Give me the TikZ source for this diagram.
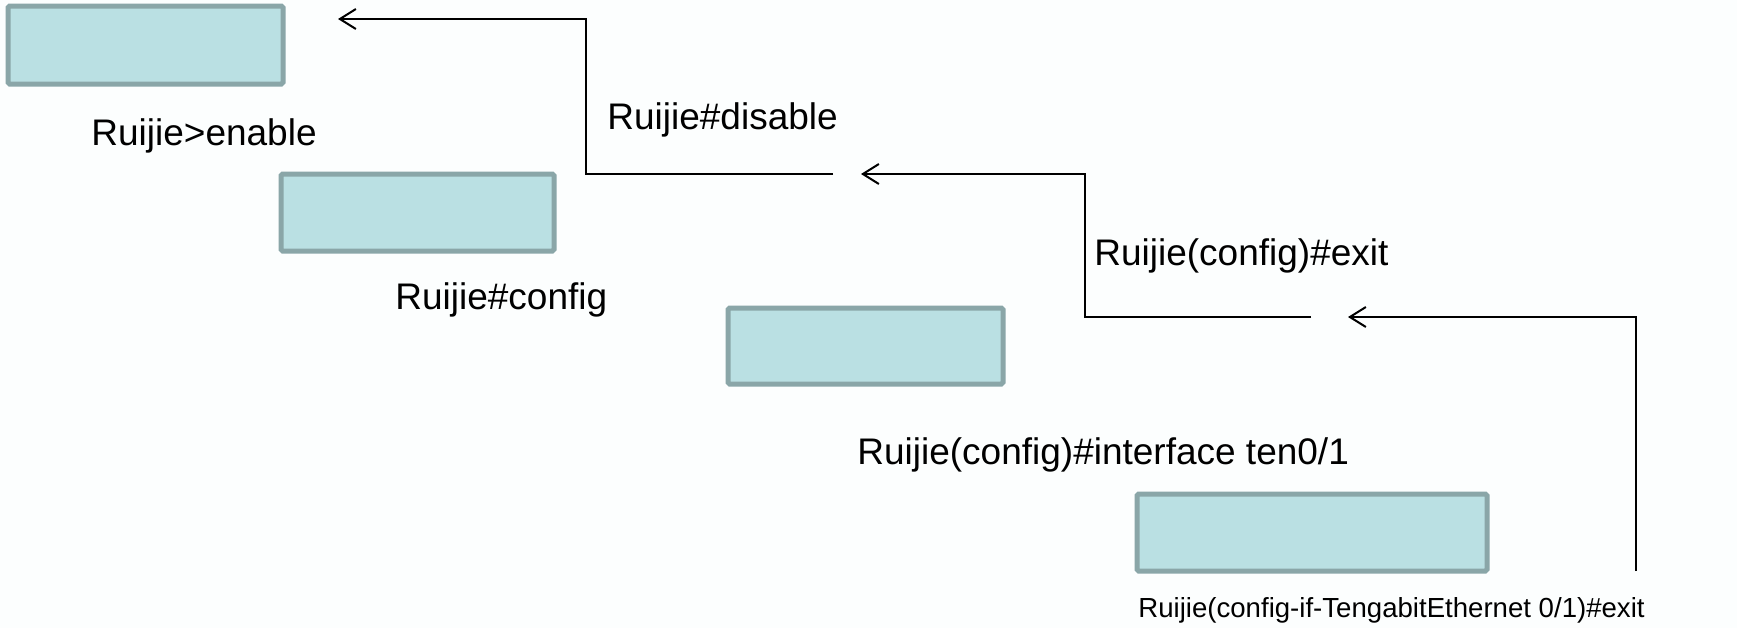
\documentclass[tikz,border=0pt]{standalone}
\usepackage{fontspec}
\setmainfont{Liberation Sans}
\usetikzlibrary{arrows.meta}
\definecolor{boxfill}{HTML}{BAE0E3}
\definecolor{boxline}{HTML}{8AA6A8}
\definecolor{bgcol}{HTML}{FCFEFE}
\tikzset{
  modebox/.style={draw=boxline, fill=boxfill, line width=2.5pt, rounded corners=0.8pt},
  cmdtext/.style={anchor=base west, inner sep=0pt, font=\fontsize{18.5pt}{22pt}\selectfont},
  smalltext/.style={anchor=base west, inner sep=0pt, font=\fontsize{13.8pt}{16pt}\selectfont},
  backarrow/.style={draw=black, line width=1pt, -{Straight Barb[length=8pt,width=10pt,line width=1pt]}}
}
\begin{document}
\begin{tikzpicture}[x=0.5pt,y=-0.5pt]
\useasboundingbox (0,0) rectangle (1737,628);
\fill[bgcol] (0,0) rectangle (1737,628);
% boxes
\draw[modebox] (8,6) rectangle (283,84);
\coordinate (b1) at (145,45);
\draw[modebox] (281,174) rectangle (554,251);
\draw[modebox] (728,308) rectangle (1003,384);
\draw[modebox] (1137,494) rectangle (1487,571);
% labels
\node[cmdtext] (t1) at (91,145) {Ruijie>enable};
\node[cmdtext] (t2) at (607,129) {Ruijie\#disable};
\node[cmdtext] (t3) at (395,309) {Ruijie\#config};
\node[cmdtext] (t4) at (1094,265) {Ruijie(config)\#exit};
\node[cmdtext] (t5) at (857,464) {Ruijie(config)\#interface ten0/1};
\node[smalltext] (t6) at (1138,617) {Ruijie(config-if-TengabitEthernet 0/1)\#exit};
% connector points
\coordinate (a1s) at (833,174);
\coordinate (a1c) at (586,174);
\coordinate (a1u) at (586,19);
\coordinate (a1t) at (338,19);
\coordinate (a2s) at (1311,317);
\coordinate (a2c) at (1085,317);
\coordinate (a2u) at (1085,174);
\coordinate (a2t) at (861,174);
\coordinate (a3s) at (1636,571);
\coordinate (a3u) at (1636,317);
\coordinate (a3t) at (1348,317);
% connectors
\draw[backarrow] (a1s) -- (a1c) -- (a1u) -- (a1t);
\draw[backarrow] (a2s) -- (a2c) -- (a2u) -- (a2t);
\draw[backarrow] (a3s) -- (a3u) -- (a3t);
\end{tikzpicture}
\end{document}
